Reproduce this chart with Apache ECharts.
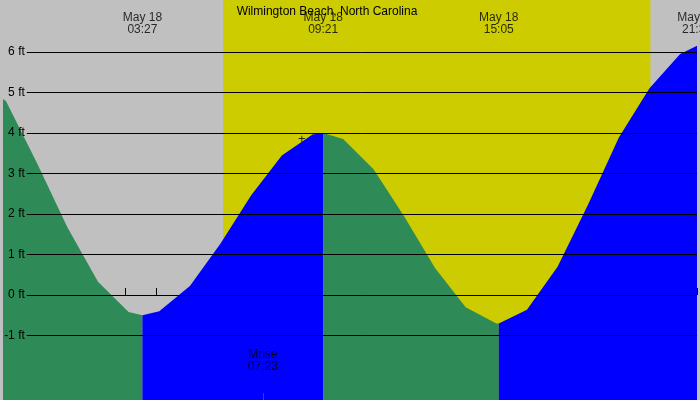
<!DOCTYPE html>
<html><head><meta charset="utf-8">
<script src="https://cdn.jsdelivr.net/npm/echarts@6/dist/echarts.min.js"></script>
<style>html,body{margin:0;padding:0;background:#c0c0c0}#c{width:700px;height:400px}</style>
</head><body><div id="c"></div>
<script>
// hours relative to May 18 00:00
const X_MIN = -1.1, X_MAX = 21.55, Y_MIN = -2.59, Y_MAX = 7.28;
const fallA = [[-1.1,4.84],[-1,4.78],[0,3.27],[1,1.67],[2,0.33],[3,-0.42],[3.45,-0.5]];
const riseB = [[3.45,-0.5],[4,-0.40],[5,0.22],[6,1.27],[7,2.46],[8,3.44],[9,3.96],[9.35,4.0]];
const fallC = [[9.35,4.0],[10,3.85],[11,3.10],[12,1.93],[13,0.67],[14,-0.30],[15,-0.70],[15.08,-0.7]];
const riseD = [[15.08,-0.7],[16,-0.36],[17,0.70],[18,2.24],[19,3.89],[20,5.10],[21,5.95],[21.55,6.15]];
const levels = [-1,0,1,2,3,4,5,6];
const daylight = [6.08, 20.03];
const extremes = [[3.45,'May 18\n03:27'],[9.35,'May 18\n09:21'],[15.08,'May 18\n15:05'],[21.55,'May 18\n21:33']];
const moonrise = [7.38, 'Mrise\n07:23'];
const transit = [8.65, 3.85];

const font = 'Liberation Sans';
function area(d, color){
  return {type:'line', data:d, symbol:'none', lineStyle:{width:0}, areaStyle:{color:color, opacity:1, origin:'start'}, z:3, silent:true};
}
const chart = echarts.init(document.getElementById('c'));
chart.setOption({
  animation:false,
  backgroundColor:'#c0c0c0',
  title:{text:'Wilmington Beach, North Carolina', left:322, textAlign:'center', top:1, textStyle:{fontFamily:font, fontSize:12, fontWeight:'normal', color:'#000'}},
  grid:{left:0,right:0,top:0,bottom:0},
  xAxis:{type:'value', min:X_MIN, max:X_MAX, interval:1, splitLine:{show:false},
    axisLine:{show:false},
    axisTick:{inside:true, length:7, lineStyle:{color:'#000'}},
    axisLabel:{inside:true, margin:9, fontFamily:font, fontSize:12, color:'#000', showMinLabel:true,
      formatter:v=>{if(Math.abs(v-Math.round(v))>1e-6) return ''; let h=((Math.round(v)%12)+12)%12; if(h===0)h=12; return String(h).padStart(2,'0');}}},
  yAxis:{type:'value', min:Y_MIN, max:Y_MAX, splitLine:{show:false}, axisLine:{show:false}, axisTick:{show:false}, axisLabel:{show:false}},
  series:[
    {type:'line', data:[], z:1, markArea:{silent:true, itemStyle:{color:'#cccc00'}, data:[[{xAxis:daylight[0]},{xAxis:daylight[1]}]]}},
    area(fallA,'#2e8b57'), area(riseB,'#0000ff'), area(fallC,'#2e8b57'), area(riseD,'#0000ff'),
    {type:'line', data:[], z:5, markLine:{silent:true, symbol:'none', lineStyle:{color:'#000', width:1, type:'solid'},
      label:{show:true, position:'start', formatter:p=>p.data.name, fontFamily:font, fontSize:12, color:'#000', distance:2},
      data:levels.map(v=>[{coord:[X_MIN+24/30.9, v], name:v+' ft'},{coord:[X_MAX, v]}])}},
    {type:'scatter', data:extremes.map(e=>({value:[e[0],Y_MAX], name:e[1]})), symbolSize:0, z:6,
      label:{show:true, position:'bottom', distance:12, formatter:p=>p.name, fontFamily:font, fontSize:12, color:'#000', lineHeight:12}},
    {type:'scatter', data:[{value:[moonrise[0],Y_MIN], name:moonrise[1]}], symbolSize:0, z:6,
      label:{show:true, position:'top', distance:27, formatter:p=>p.name, fontFamily:font, fontSize:12, color:'#000', lineHeight:12},
      markLine:{silent:true, symbol:'none', label:{show:false}, lineStyle:{color:'#ff0000', width:1, type:'solid'},
        data:[[{coord:[moonrise[0],Y_MIN]},{coord:[moonrise[0],Y_MIN+7/40.5]}]]}},
    {type:'scatter', data:[{value:transit, name:'+'}], symbolSize:0, z:6,
      label:{show:true, position:'inside', formatter:'+', fontFamily:font, fontSize:13, color:'#000'}}
  ]
});
</script></body></html>
